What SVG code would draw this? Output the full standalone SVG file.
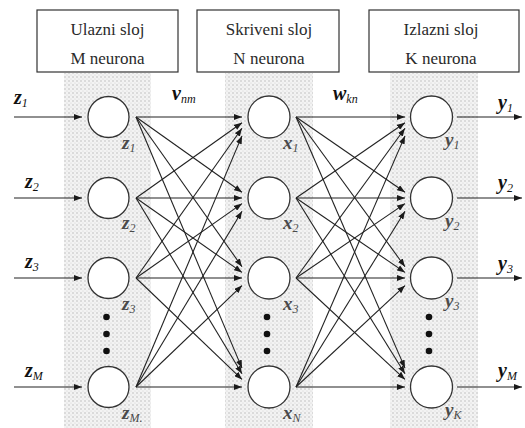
<svg xmlns="http://www.w3.org/2000/svg" width="525" height="428" viewBox="0 0 525 428">
  <defs>
    <!-- stippled background of each layer column -->
    <pattern id="stipple" width="4" height="4" patternUnits="userSpaceOnUse">
      <rect width="4" height="4" fill="#f3f3f3"/>
      <circle cx="1" cy="1" r="0.8" fill="#bdbdbd"/>
      <circle cx="3" cy="3" r="0.6" fill="#d2d2d2"/>
    </pattern>
    <marker id="arrow" viewBox="0 0 8 6" markerWidth="8" markerHeight="6" refX="8" refY="3" orient="auto" markerUnits="userSpaceOnUse">
      <path d="M0,0 L8,3 L0,6 z" fill="#1a1a1a"/>
    </marker>
  </defs>
  <style>
    .col { fill: url(#stipple); }
    .box { fill: #ffffff; stroke: #333333; stroke-width: 1.2; }
    .head { font-family: 'Liberation Serif', serif; font-size: 17px; fill: #2a2a2a; text-anchor: middle; }
    .neuron { fill: #ffffff; stroke: #333333; stroke-width: 1.3; }
    .dot { fill: #111111; }
    .edge { stroke: #222222; stroke-width: 1.1; fill: none; marker-end: url(#arrow); }
    .io { font-family: 'Liberation Serif', serif; font-size: 20px; font-weight: bold; font-style: italic; fill: #111111; }
    .nl { font-family: 'Liberation Serif', serif; font-size: 19px; font-weight: bold; font-style: italic; fill: #4a4a4a; }
    .sub { font-size: 12px; font-weight: normal; }
  </style>

  <rect width="525" height="428" fill="#ffffff"/>

  <!-- layer columns -->
  <g id="columns">
    <rect class="col" x="64" y="73" width="87" height="355"/>
    <rect class="col" x="225" y="73" width="88" height="355"/>
    <rect class="col" x="390" y="73" width="88" height="355"/>
  </g>

  <!-- layer headers -->
  <g id="header-input">
    <rect class="box" x="37" y="10" width="141" height="62"/>
    <text class="head" x="107.5" y="35">Ulazni sloj</text>
    <text class="head" x="107.5" y="64">M neurona</text>
  </g>
  <g id="header-hidden">
    <rect class="box" x="197" y="10" width="142" height="62"/>
    <text class="head" x="269" y="35">Skriveni sloj</text>
    <text class="head" x="269" y="64">N neurona</text>
  </g>
  <g id="header-output">
    <rect class="box" x="369" y="10" width="150" height="62"/>
    <text class="head" x="441" y="35">Izlazni sloj</text>
    <text class="head" x="441" y="64">K neurona</text>
  </g>

  <!-- connectors -->
  <g id="connectors">
    <!-- inputs -->
    <line class="edge" x1="14" y1="117" x2="82" y2="117"/>
    <line class="edge" x1="14" y1="198" x2="82" y2="198"/>
    <line class="edge" x1="14" y1="278" x2="82" y2="278"/>
    <line class="edge" x1="14" y1="387" x2="82" y2="387"/>
    <!-- input layer to hidden layer -->
    <line class="edge" x1="136" y1="117" x2="242" y2="117"/>
    <line class="edge" x1="136" y1="117" x2="242" y2="192.3"/>
    <line class="edge" x1="136" y1="117" x2="242" y2="266.7"/>
    <line class="edge" x1="136" y1="117" x2="242" y2="368.1"/>
    <line class="edge" x1="136" y1="198" x2="242" y2="122.7"/>
    <line class="edge" x1="136" y1="198" x2="242" y2="198"/>
    <line class="edge" x1="136" y1="198" x2="242" y2="272.4"/>
    <line class="edge" x1="136" y1="198" x2="242" y2="373.8"/>
    <line class="edge" x1="136" y1="278" x2="242" y2="128.3"/>
    <line class="edge" x1="136" y1="278" x2="242" y2="203.6"/>
    <line class="edge" x1="136" y1="278" x2="242" y2="278"/>
    <line class="edge" x1="136" y1="278" x2="242" y2="379.4"/>
    <line class="edge" x1="136" y1="387" x2="242" y2="135.9"/>
    <line class="edge" x1="136" y1="387" x2="242" y2="211.2"/>
    <line class="edge" x1="136" y1="387" x2="242" y2="285.6"/>
    <line class="edge" x1="136" y1="387" x2="242" y2="387"/>
    <!-- hidden layer to output layer -->
    <line class="edge" x1="296" y1="117" x2="405" y2="117"/>
    <line class="edge" x1="296" y1="117" x2="405" y2="192.3"/>
    <line class="edge" x1="296" y1="117" x2="405" y2="266.7"/>
    <line class="edge" x1="296" y1="117" x2="405" y2="368.1"/>
    <line class="edge" x1="296" y1="198" x2="405" y2="122.7"/>
    <line class="edge" x1="296" y1="198" x2="405" y2="198"/>
    <line class="edge" x1="296" y1="198" x2="405" y2="272.4"/>
    <line class="edge" x1="296" y1="198" x2="405" y2="373.8"/>
    <line class="edge" x1="296" y1="278" x2="405" y2="128.3"/>
    <line class="edge" x1="296" y1="278" x2="405" y2="203.6"/>
    <line class="edge" x1="296" y1="278" x2="405" y2="278"/>
    <line class="edge" x1="296" y1="278" x2="405" y2="379.4"/>
    <line class="edge" x1="296" y1="387" x2="405" y2="135.9"/>
    <line class="edge" x1="296" y1="387" x2="405" y2="211.2"/>
    <line class="edge" x1="296" y1="387" x2="405" y2="285.6"/>
    <line class="edge" x1="296" y1="387" x2="405" y2="387"/>
    <!-- outputs -->
    <line class="edge" x1="457" y1="117" x2="522" y2="117"/>
    <line class="edge" x1="457" y1="198" x2="522" y2="198"/>
    <line class="edge" x1="457" y1="278" x2="522" y2="278"/>
    <line class="edge" x1="457" y1="387" x2="522" y2="387"/>
  </g>

  <!-- weight labels -->
  <g id="weight-labels">
    <text class="io" x="172" y="100">v<tspan class="sub" dy="3">nm</tspan></text>
    <text class="io" x="333" y="100">w<tspan class="sub" dy="3">kn</tspan></text>
  </g>

  <!-- input and output labels -->
  <g id="io-labels">
    <text class="io" x="14" y="104">z<tspan class="sub" dy="3">1</tspan></text>
    <text class="io" x="25" y="188">z<tspan class="sub" dy="3">2</tspan></text>
    <text class="io" x="25" y="268">z<tspan class="sub" dy="3">3</tspan></text>
    <text class="io" x="25" y="377">z<tspan class="sub" dy="3">M</tspan></text>
    <text class="io" x="498" y="109">y<tspan class="sub" dy="3">1</tspan></text>
    <text class="io" x="498" y="189">y<tspan class="sub" dy="3">2</tspan></text>
    <text class="io" x="498" y="270">y<tspan class="sub" dy="3">3</tspan></text>
    <text class="io" x="498" y="377">y<tspan class="sub" dy="3">M</tspan></text>
  </g>

  <!-- input layer neurons -->
  <g id="z1"><circle class="neuron" cx="108.5" cy="117" r="20.5"/><text class="nl" x="122" y="149">z<tspan class="sub" dy="3">1</tspan></text></g>
  <g id="z2"><circle class="neuron" cx="108.5" cy="198" r="20.5"/><text class="nl" x="122" y="229">z<tspan class="sub" dy="3">2</tspan></text></g>
  <g id="z3"><circle class="neuron" cx="108.5" cy="278" r="20.5"/><text class="nl" x="122" y="310">z<tspan class="sub" dy="3">3</tspan></text></g>
  <g id="z-dots"><circle class="dot" cx="106.5" cy="317" r="3.3"/><circle class="dot" cx="106.5" cy="334" r="3.3"/><circle class="dot" cx="106.5" cy="351" r="3.3"/></g>
  <g id="zM"><circle class="neuron" cx="108.5" cy="387" r="20.5"/><text class="nl" x="122" y="419">z<tspan class="sub" dy="3">M.</tspan></text></g>

  <!-- hidden layer neurons -->
  <g id="x1"><circle class="neuron" cx="269" cy="117" r="21"/><text class="nl" x="283" y="149">x<tspan class="sub" dy="3">1</tspan></text></g>
  <g id="x2"><circle class="neuron" cx="269" cy="198" r="21"/><text class="nl" x="283" y="229">x<tspan class="sub" dy="3">2</tspan></text></g>
  <g id="x3"><circle class="neuron" cx="269" cy="278" r="21"/><text class="nl" x="283" y="310">x<tspan class="sub" dy="3">3</tspan></text></g>
  <g id="x-dots"><circle class="dot" cx="267" cy="317" r="3.3"/><circle class="dot" cx="267" cy="334" r="3.3"/><circle class="dot" cx="267" cy="351" r="3.3"/></g>
  <g id="xN"><circle class="neuron" cx="269" cy="387" r="21"/><text class="nl" x="283" y="419">x<tspan class="sub" dy="3">N</tspan></text></g>

  <!-- output layer neurons -->
  <g id="y1"><circle class="neuron" cx="431.5" cy="117" r="21"/><text class="nl" x="445" y="146">y<tspan class="sub" dy="3">1</tspan></text></g>
  <g id="y2"><circle class="neuron" cx="431.5" cy="198" r="21"/><text class="nl" x="445" y="227">y<tspan class="sub" dy="3">2</tspan></text></g>
  <g id="y3"><circle class="neuron" cx="431.5" cy="278" r="21"/><text class="nl" x="445" y="307">y<tspan class="sub" dy="3">3</tspan></text></g>
  <g id="y-dots"><circle class="dot" cx="429" cy="317" r="3.3"/><circle class="dot" cx="429" cy="334" r="3.3"/><circle class="dot" cx="429" cy="351" r="3.3"/></g>
  <g id="yK"><circle class="neuron" cx="431.5" cy="387" r="21"/><text class="nl" x="445" y="416">y<tspan class="sub" dy="3">K</tspan></text></g>
</svg>
